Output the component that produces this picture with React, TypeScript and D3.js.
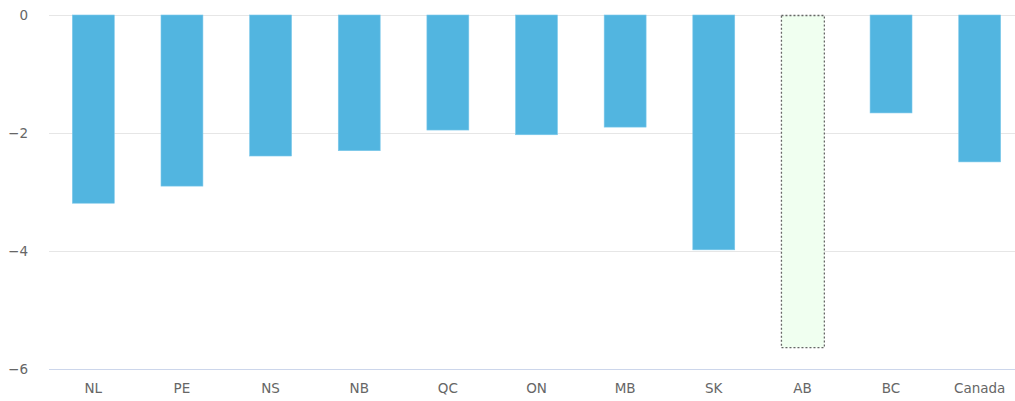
import React from 'react';
import * as d3 from 'd3';

const categories = ['NL', 'PE', 'NS', 'NB', 'QC', 'ON', 'MB', 'SK', 'AB', 'BC', 'Canada'];
const values = [-3.19, -2.9, -2.39, -2.3, -1.95, -2.03, -1.9, -3.98, -5.63, -1.66, -2.49];
const yTicks = [0, -2, -4, -6];
const highlighted = 'AB';

const width = 1015;
const height = 401;
const plotLeft = 49;
const plotRight = 1024;
const plotTop = 15;
const plotBottom = 369;

export default function App() {
  const x = d3.scaleBand<string>().domain(categories).range([plotLeft, plotRight]).paddingInner(0.527).paddingOuter(0.2635);
  const y = d3.scaleLinear().domain([0, -6]).range([plotTop, plotBottom]);
  const font = '"DejaVu Sans", Verdana, sans-serif';

  return (
    <div style={{ position: 'fixed', left: 0, top: 0 }}>
      <svg width={width} height={height} style={{ display: 'block', background: '#fff' }}>
        {yTicks.map((t) => (
          <g key={t}>
            {t !== -6 && (
              <line x1={plotLeft} x2={width} y1={y(t) + 0.5} y2={y(t) + 0.5} stroke="#e6e6e6" strokeWidth={1} />
            )}
            <text x={28} y={y(t)} dy="0.35em" textAnchor="end" fontFamily={font} fontSize={13.5} fill="#666">
              {t < 0 ? '\u2212' + Math.abs(t) : t}
            </text>
          </g>
        ))}
        {categories.map((c, i) => {
          const v = values[i];
          const bx = x(c)!;
          const top = y(0);
          const h = y(v) - y(0);
          if (c === highlighted) {
            return (
              <rect key={c} x={bx} y={top + 0.5} width={x.bandwidth() + 1} height={h} fill="#f0fff0" stroke="#666" strokeWidth={1.3} strokeDasharray="2,2" />
            );
          }
          return <rect key={c} x={bx} y={top} width={x.bandwidth()} height={h} fill="#52b5e0" stroke="#7cc8ea" strokeWidth={0.6} />;
        })}
        <line x1={plotLeft} x2={width} y1={plotBottom + 0.5} y2={plotBottom + 0.5} stroke="#ccd6eb" strokeWidth={1} />
        {categories.map((c) => (
          <text key={c} x={x(c)! + x.bandwidth() / 2} y={plotBottom + 24} textAnchor="middle" fontFamily={font} fontSize={13.5} fill="#666">
            {c}
          </text>
        ))}
      </svg>
    </div>
  );
}
